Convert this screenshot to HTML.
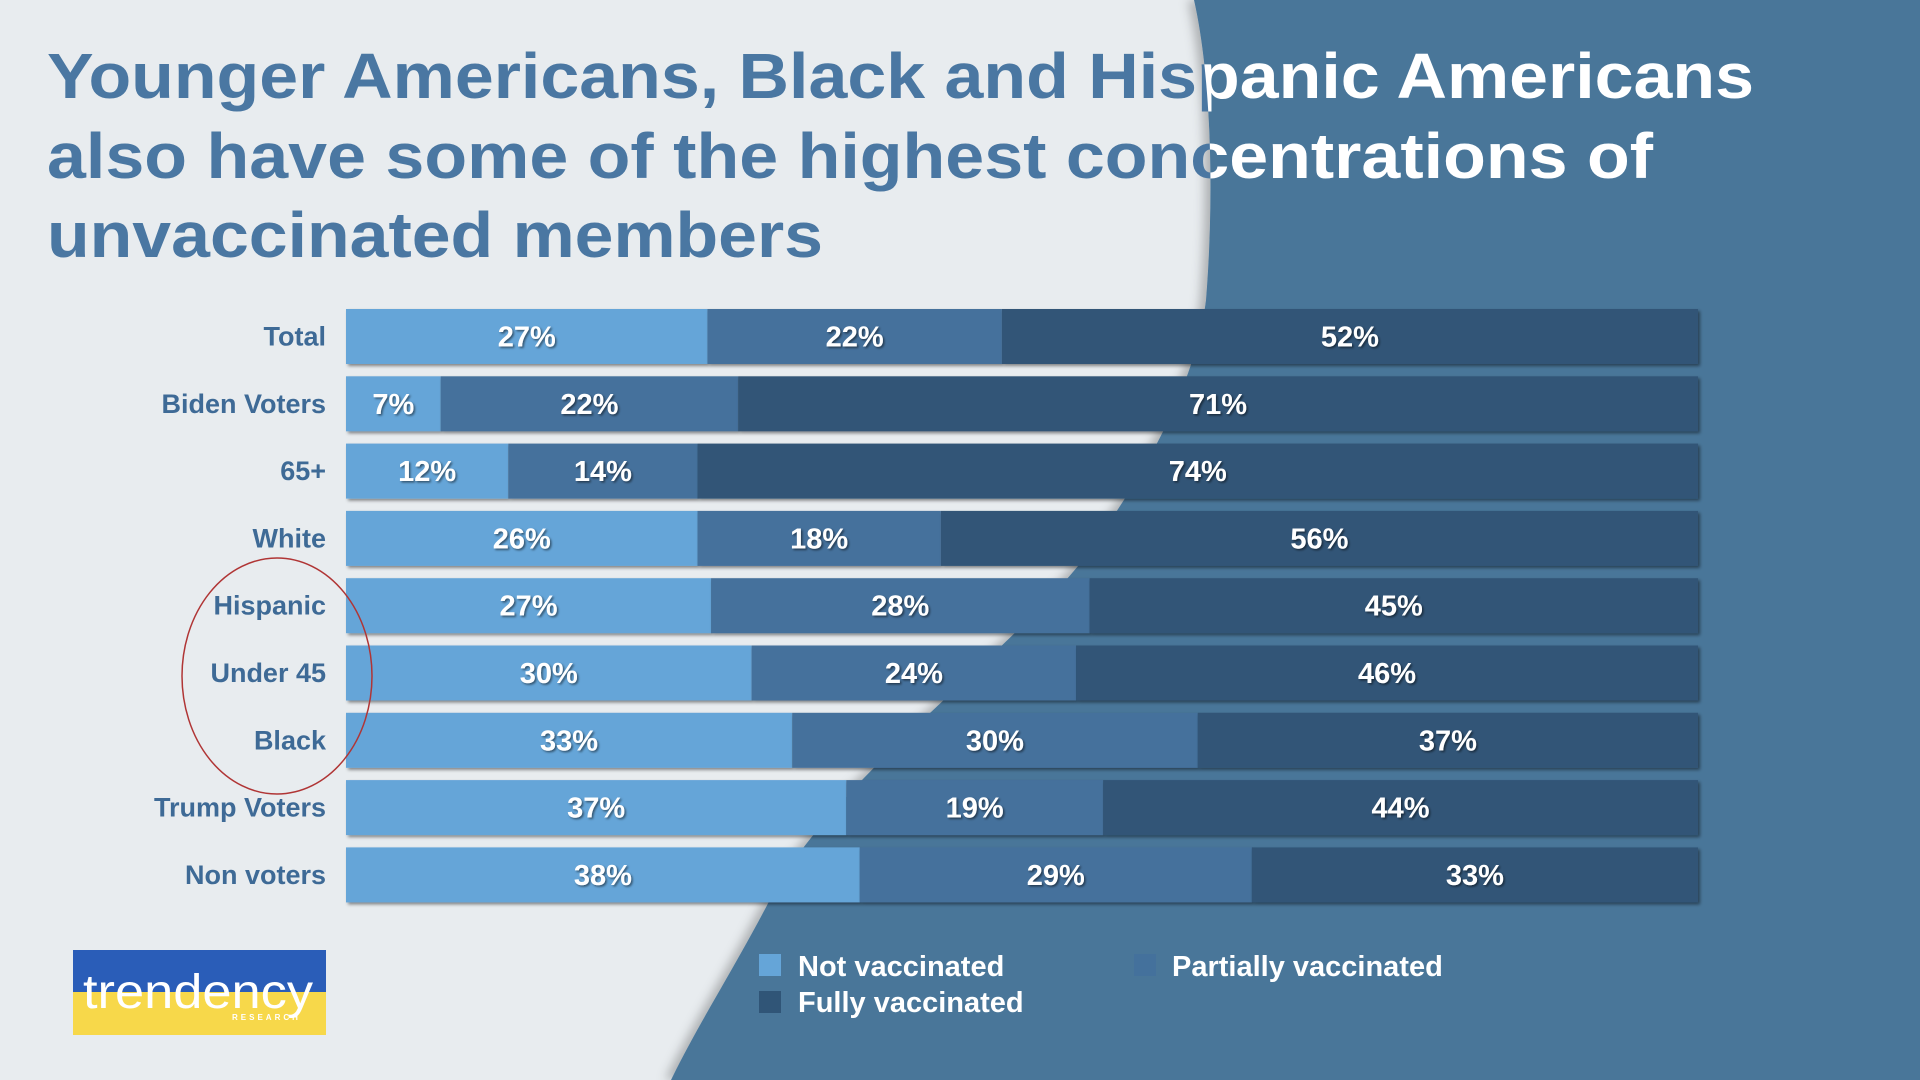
<!DOCTYPE html>
<html><head><meta charset="utf-8"><style>
html,body{margin:0;padding:0;width:1920px;height:1080px;overflow:hidden;background:#e8ecef}
svg{display:block}
text{font-family:"Liberation Sans",Arial,sans-serif;font-weight:bold}
</style></head><body>
<svg id="chart" width="1920" height="1080" viewBox="0 0 1920 1080">
<defs>
<clipPath id="blueClip"><path d="M1194,0 C1212,80 1214,200 1206,300 C1196,380 1150,470 1078,566 C1000,660 860,760 780,880 C740,960 700,1020 671,1080 L1920,1080 L1920,0 Z"/></clipPath>
<filter id="sh" x="-5%" y="-20%" width="110%" height="150%"><feDropShadow dx="2" dy="2" stdDeviation="1.5" flood-color="#000" flood-opacity="0.45"/></filter>
<filter id="tsh"><feDropShadow dx="1.5" dy="1.5" stdDeviation="1" flood-color="#000" flood-opacity="0.5"/></filter>
<filter id="edge" x="-5%" y="-5%" width="110%" height="110%"><feDropShadow dx="-6" dy="0" stdDeviation="5" flood-color="#000" flood-opacity="0.25"/></filter>
</defs>
<rect x="0" y="0" width="1920" height="1080" fill="#e8ecef"/>
<path d="M1194,0 C1212,80 1214,200 1206,300 C1196,380 1150,470 1078,566 C1000,660 860,760 780,880 C740,960 700,1020 671,1080 L1920,1080 L1920,0 Z" fill="#4a7699" filter="url(#edge)"/>
<g font-size="64" fill="#4a77a2">
<text x="47" y="98" textLength="1707" lengthAdjust="spacingAndGlyphs">Younger Americans, Black and Hispanic Americans</text>
<text x="47" y="178" textLength="1606" lengthAdjust="spacingAndGlyphs">also have some of the highest concentrations of</text>
<text x="47" y="257" textLength="776" lengthAdjust="spacingAndGlyphs">unvaccinated members</text>
</g>
<g clip-path="url(#blueClip)" font-size="64" fill="#ffffff">
<text x="47" y="98" textLength="1707" lengthAdjust="spacingAndGlyphs">Younger Americans, Black and Hispanic Americans</text>
<text x="47" y="178" textLength="1606" lengthAdjust="spacingAndGlyphs">also have some of the highest concentrations of</text>
<text x="47" y="257" textLength="776" lengthAdjust="spacingAndGlyphs">unvaccinated members</text>
</g>
<g id="bars"></g>
<ellipse cx="277" cy="676" rx="95" ry="118" fill="none" stroke="#b03535" stroke-width="1.5"/>
<g font-size="29" fill="#fff">
<g><rect x="759" y="954" width="22" height="22" fill="#65a5d8"/><text x="798" y="976">Not vaccinated</text></g>
<g><rect x="1134" y="954" width="22" height="22" fill="#44719c"/><text x="1172" y="976">Partially vaccinated</text></g>
<g><rect x="759" y="991" width="22" height="22" fill="#305577"/><text x="798" y="1012">Fully vaccinated</text></g>
</g>
<g>
<rect x="73" y="950" width="253" height="42" fill="#2a5db8"/>
<rect x="73" y="992" width="253" height="43" fill="#f7d84a"/>
<text x="83" y="1008" font-size="48" fill="#fff" textLength="230" lengthAdjust="spacingAndGlyphs" style="font-weight:normal">trendency</text>
<text x="232" y="1020" font-size="8" fill="#fff" letter-spacing="3">RESEARCH</text>
</g>
</svg>
<script>
const categories=["Total","Biden Voters","65+","White","Hispanic","Under 45","Black","Trump Voters","Non voters"];
const notVaccinated=[27,7,12,26,27,30,33,37,38];
const partiallyVaccinated=[22,22,14,18,28,24,30,19,29];
const fullyVaccinated=[52,71,74,56,45,46,37,44,33];
const seriesColors=["#65a5d8","#44719c","#305577"];
const x0=346,x1=1698,rowTop=309,rowStep=67.3,barH=55;
const ns="http://www.w3.org/2000/svg";
const g=document.getElementById('bars');
function xScale(v,total){return (v/total)*(x1-x0);}
function yScale(i){return rowTop+i*rowStep;}
categories.forEach((cat,i)=>{
  const vals=[notVaccinated[i],partiallyVaccinated[i],fullyVaccinated[i]];
  const total=vals[0]+vals[1]+vals[2];
  const y=yScale(i);
  const lab=document.createElementNS(ns,'text');
  
  
  lab.setAttribute('x',326);lab.setAttribute('y',y+barH/2+9);
  lab.setAttribute('text-anchor','end');lab.setAttribute('font-size','27');lab.setAttribute('fill','#3e6a96');
  lab.textContent=cat;g.appendChild(lab);
  let x=x0;
  const segs=[];
  vals.forEach((v,k)=>{
    const w=xScale(v,total);
    const r=document.createElementNS(ns,'rect');
    
    
    r.setAttribute('x',x);r.setAttribute('y',y);r.setAttribute('width',w);r.setAttribute('height',barH);
    r.setAttribute('fill',seriesColors[k]);r.setAttribute('filter','url(#sh)');
    g.appendChild(r);
    segs.push([x,w,v]);x+=w;
  });
  segs.forEach(([sx,w,v])=>{
    const t=document.createElementNS(ns,'text');
    
    
    t.setAttribute('x',sx+w/2);t.setAttribute('y',y+barH/2+10);
    t.setAttribute('text-anchor','middle');t.setAttribute('font-size','29');t.setAttribute('fill','#fff');
    t.setAttribute('filter','url(#tsh)');
    t.textContent=v+'%';g.appendChild(t);
  });
});
</script>
</body></html>
